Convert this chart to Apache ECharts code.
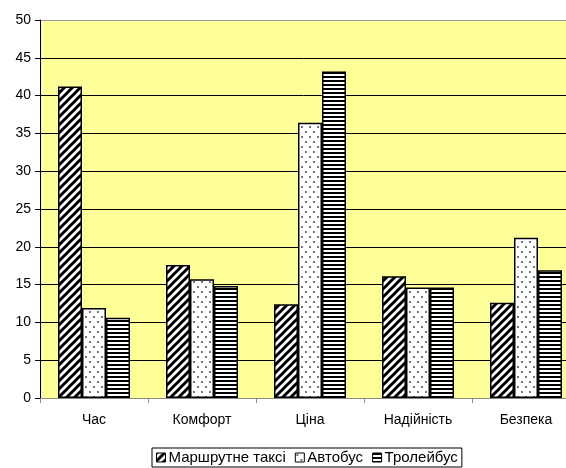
<!DOCTYPE html>
<html>
<head>
<meta charset="utf-8">
<script src="https://cdn.jsdelivr.net/npm/echarts@6/dist/echarts.min.js"></script>
<style>
  html, body { margin: 0; padding: 0; background: #fff; }
  #chart { width: 566px; height: 468px; }
</style>
</head>
<body>
<div id="chart"></div>
<script>
const categories = ['Час', 'Комфорт', 'Ціна', 'Надійність', 'Безпека']
const seriesNames = ['Маршрутне таксі', 'Автобус', 'Тролейбус']
const taxiValues = [41.2, 17.6, 12.4, 16.1, 12.6]
const busValues = [11.9, 15.7, 36.4, 14.6, 21.2]
const trolleyValues = [10.6, 14.8, 43.2, 14.6, 16.9]

// fill patterns
const makeCanvas = (w, h, draw) => {
  const c = document.createElement('canvas')
  c.width = w
  c.height = h
  const ctx = c.getContext('2d')
  ctx.fillStyle = '#fff'
  ctx.fillRect(0, 0, w, h)
  draw(ctx)
  return c
}

const diagPattern = makeCanvas(8, 8, (ctx) => {
  ctx.strokeStyle = '#000'
  ctx.lineWidth = 3
  ctx.beginPath()
  ctx.moveTo(-4, 4); ctx.lineTo(4, -4)
  ctx.moveTo(0, 8); ctx.lineTo(8, 0)
  ctx.moveTo(4, 12); ctx.lineTo(12, 4)
  ctx.stroke()
})

const dotPattern = makeCanvas(8, 10, (ctx) => {
  ctx.fillStyle = '#777'
  ctx.fillRect(1, 1, 2, 2)
  ctx.fillRect(5, 6, 2, 2)
})

const hPattern = makeCanvas(4, 4, (ctx) => {
  ctx.fillStyle = '#000'
  ctx.fillRect(0, 0, 4, 2)
})

const patterns = [diagPattern, dotPattern, hPattern]
const values = [taxiValues, busValues, trolleyValues]

const chart = echarts.init(document.getElementById('chart'))

const option = {
  animation: false,
  textStyle: { fontFamily: 'Liberation Sans, Arial, sans-serif' },
  grid: {
    left: 40,
    top: 20,
    width: 540,
    bottom: 70,
    outerBoundsMode: 'none',
    containLabel: false,
    show: true,
    backgroundColor: '#ffff99',
    borderWidth: 0,
  },
  legend: {
    bottom: 1,
    left: 152,
    icon: 'rect',
    itemWidth: 9,
    itemHeight: 9,
    itemGap: 9,
    padding: [2, 4, 2, 4],
    borderColor: '#000',
    borderWidth: 1,
    textStyle: { fontSize: 15, color: '#000', padding: [0, 0, 0, -2] },
    itemStyle: { borderColor: '#000', borderWidth: 1 },
    data: seriesNames,
  },
  xAxis: {
    type: 'category',
    data: categories,
    axisLine: { lineStyle: { color: '#888', width: 1 } },
    axisTick: { show: true, length: 5, lineStyle: { color: '#888' } },
    axisLabel: { color: '#000', fontSize: 14, margin: 15 },
  },
  yAxis: {
    type: 'value',
    min: 0,
    max: 50,
    interval: 5,
    axisLine: { show: true, lineStyle: { color: '#000', width: 1 } },
    axisTick: { show: true, length: 5, lineStyle: { color: '#000' } },
    axisLabel: { color: '#000', fontSize: 14, margin: 9 },
    splitLine: {
      lineStyle: {
        color: ['#000', '#000', '#000', '#000', '#000', '#000', '#000', '#000', '#000', '#000', '#999'],
        width: 1,
      },
    },
  },
  series: seriesNames.map((name, i) => ({
    name,
    type: 'bar',
    data: values[i],
    barWidth: 24,
    barGap: '0%',
    itemStyle: {
      color: { image: patterns[i], repeat: 'repeat' },
      borderColor: '#000',
      borderWidth: 1.5,
    },
  })),
}

chart.setOption(option)
</script>
</body>
</html>
